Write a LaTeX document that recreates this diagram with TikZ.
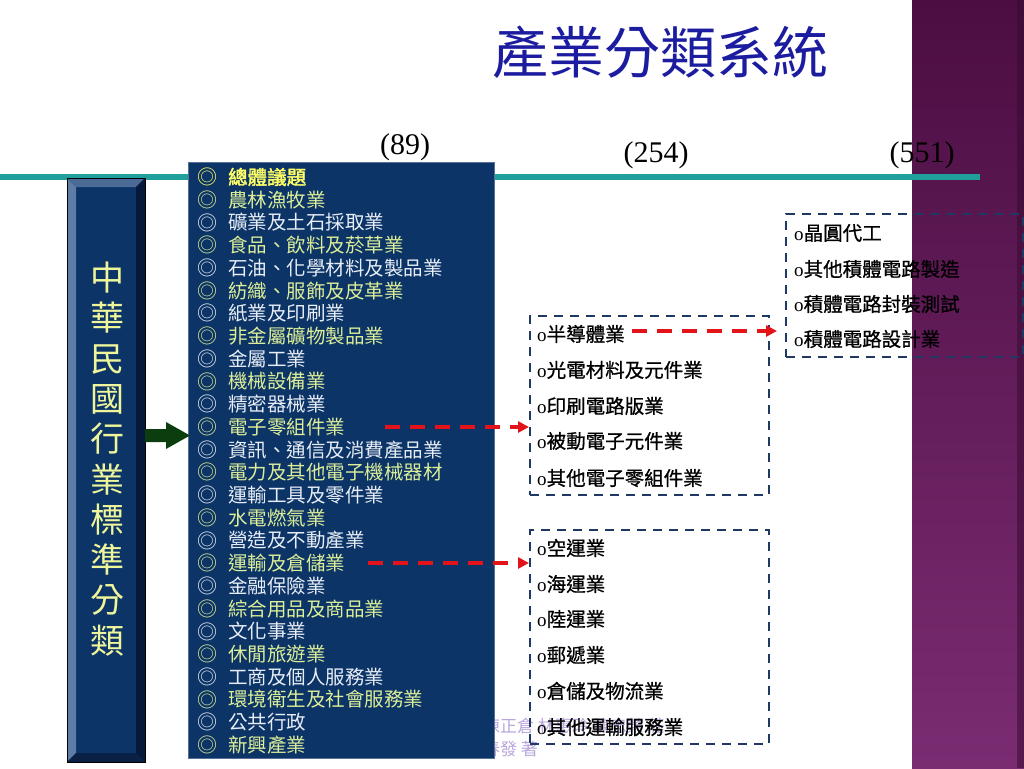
\documentclass[tikz,border=0pt]{standalone}
\usepackage{fontspec}
\newfontfamily\cjk{Noto Sans CJK TC}
\newfontfamily\cjkb[FakeBold=2]{Noto Sans CJK TC}
\newfontfamily\cjkm[FakeBold=0.8]{Noto Sans CJK TC}
\newfontfamily\serif{Liberation Serif}
\usetikzlibrary{arrows.meta}
\definecolor{strip1}{HTML}{4C0E42}
\definecolor{strip2}{HTML}{7A2C72}
\definecolor{teal1}{HTML}{1FA09C}
\definecolor{navybox}{HTML}{0C3467}
\definecolor{bevL}{HTML}{5E7DA6}
\definecolor{bevT}{HTML}{4B6A95}
\definecolor{bevR}{HTML}{07193A}
\definecolor{bevB}{HTML}{0A2145}
\definecolor{ygreen}{HTML}{DCEE98}
\definecolor{wtext}{HTML}{E8EEF6}
\definecolor{ytext}{HTML}{FFFF66}
\definecolor{vtext}{HTML}{EEF59A}
\definecolor{arrowgreen}{HTML}{0B3D0E}
\definecolor{redd}{HTML}{E2141A}
\definecolor{dashblue}{HTML}{1F3864}
\definecolor{titleblue}{HTML}{1C1CA0}
\definecolor{footc}{HTML}{B9A6DC}
\tikzset{
  listitem/.style={anchor=west, inner sep=0pt, font=\cjk\fontsize{19.5}{20}\selectfont},
  bullet/.style={anchor=west, inner sep=0pt, font=\cjk\fontsize{20}{20}\selectfont},
  dbox/.style={draw=dashblue, line width=2.4pt, dash pattern=on 9pt off 7pt, anchor=north west, inner sep=0pt},
  boxitem/.style={anchor=west, inner sep=0pt, text=black, font=\cjkm\fontsize{19.5}{20}\selectfont},
  redarrow/.style={draw=redd, line width=3.2pt, dash pattern=on 15pt off 10pt, -{Triangle[length=11pt,width=11pt]}},
  numlabel/.style={inner sep=0pt, font=\serif\fontsize{30}{32}\selectfont},
}
\newcommand{\bo}{{\serif\fontsize{19}{20}\selectfont o}}
\begin{document}
\begin{tikzpicture}[x=1pt,y=-1pt]
\useasboundingbox (0,0) rectangle (1024,768);
\fill[white] (0,0) rectangle (1024,768);
% purple strip
\shade[top color=strip1, bottom color=strip2] (912,0) rectangle (1024,768);
\fill[strip1!70!black, opacity=0.5] (1017,0) rectangle (1024,768);
% teal line
\fill[teal1] (0,174) rectangle (980,180);
% title
\node[text=titleblue, inner sep=0pt, font=\cjk\fontsize{56}{60}\selectfont] (title) at (660,52) {產業分類系統};
% numbers
\node[numlabel] (n89) at (405,147) {(89)};
\node[numlabel] (n254) at (656,155) {(254)};
\node[numlabel] (n551) at (922,155) {(551)};
% footer
\node[anchor=north west, inner sep=0pt, align=left, text=footc, font=\cjk\fontsize{17}{23}\selectfont] (foot) at (483,718) {陳正倉 林惠玲 陳忠榮 莊\\春發 著};
% left bevel box
\node[minimum width=78, minimum height=584, inner sep=0pt] (side) at (106,470) {};
\fill[navybox] (67,178) rectangle (145,762);
\fill[bevL] (67,178) -- (76,187) -- (76,753) -- (67,762) -- cycle;
\fill[bevT] (67,178) -- (145,178) -- (136,187) -- (76,187) -- cycle;
\fill[bevR] (145,178) -- (145,762) -- (136,753) -- (136,187) -- cycle;
\fill[bevB] (67,762) -- (145,762) -- (136,753) -- (76,753) -- cycle;
\draw[black, line width=0.8pt] (67,178) rectangle (145,762);
\node[text=vtext, align=center, inner sep=0pt, font=\cjk\fontsize{34}{40.3}\selectfont] (sidetext) at (107,459) {中\\華\\民\\國\\行\\業\\標\\準\\分\\類};
% list box
\node[fill=navybox, draw=navybox!70!white, line width=0.6pt, anchor=north west, minimum width=306, minimum height=596, inner sep=0pt] (list) at (188,162) {};
% green arrow
\fill[arrowgreen] (145,429) -- (166,429) -- (166,422) -- (190,435.5) -- (166,449) -- (166,442) -- (145,442) -- cycle;
% list items
\node[bullet, text=ytext] (bul1) at (197,177) {◎};
\node[listitem, text=ytext, font=\cjkb\fontsize{19.5}{20}\selectfont] (item1) at (228,177) {總體議題};
\foreach \t [count=\i from 2] in {農林漁牧業,礦業及土石採取業,食品、飲料及菸草業,石油、化學材料及製品業,紡織、服飾及皮革業,紙業及印刷業,非金屬礦物製品業,金屬工業,機械設備業,精密器械業,電子零組件業,資訊、通信及消費產品業,電力及其他電子機械器材,運輸工具及零件業,水電燃氣業,營造及不動產業,運輸及倉儲業,金融保險業,綜合用品及商品業,文化事業,休閒旅遊業,工商及個人服務業,環境衛生及社會服務業,公共行政,新興產業}{
  \pgfmathsetmacro\yy{177+(\i-1)*22.72}
  \ifodd\i
    \node[bullet, text=wtext] (bul\i) at (197,\yy) {◎};
    \node[listitem, text=wtext] (item\i) at (228,\yy) {\t};
  \else
    \node[bullet, text=ygreen] (bul\i) at (197,\yy) {◎};
    \node[listitem, text=ygreen] (item\i) at (228,\yy) {\t};
  \fi
}
% dashed boxes
\node[dbox, minimum width=239, minimum height=179] (b1) at (529,315) {};
\node[dbox, minimum width=239, minimum height=214] (b2) at (529,529) {};
\node[dbox, minimum width=237, minimum height=143] (b3) at (785,213) {};
% box1 items
\node[boxitem] (c1) at (537,334) {\bo 半導體業};
\node[boxitem] (c2) at (537,370) {\bo 光電材料及元件業};
\node[boxitem] (c3) at (537,406) {\bo 印刷電路版業};
\node[boxitem] (c4) at (537,441) {\bo 被動電子元件業};
\node[boxitem] (c5) at (537,478) {\bo 其他電子零組件業};
% box2 items
\node[boxitem] (d1) at (537,548) {\bo 空運業};
\node[boxitem] (d2) at (537,584) {\bo 海運業};
\node[boxitem] (d3) at (537,619) {\bo 陸運業};
\node[boxitem] (d4) at (537,655) {\bo 郵遞業};
\node[boxitem] (d5) at (537,691) {\bo 倉儲及物流業};
\node[boxitem] (d6) at (537,727) {\bo 其他運輸服務業};
% box3 items
\node[boxitem] (e1) at (794,233) {\bo 晶圓代工};
\node[boxitem] (e2) at (794,269) {\bo 其他積體電路製造};
\node[boxitem] (e3) at (794,304) {\bo 積體電路封裝測試};
\node[boxitem] (e4) at (794,339) {\bo 積體電路設計業};
% red arrows
\coordinate (a1s) at (385,427);
\coordinate (a2s) at (368,563);
\coordinate (a3s) at (632,331);
\draw[redarrow] (a1s) -- (a1s -| b1.west);
\draw[redarrow] (a2s) -- (a2s -| b2.west);
\draw[redarrow, shorten >=8pt] (a3s) -- (a3s -| b3.west);
\end{tikzpicture}
\end{document}
